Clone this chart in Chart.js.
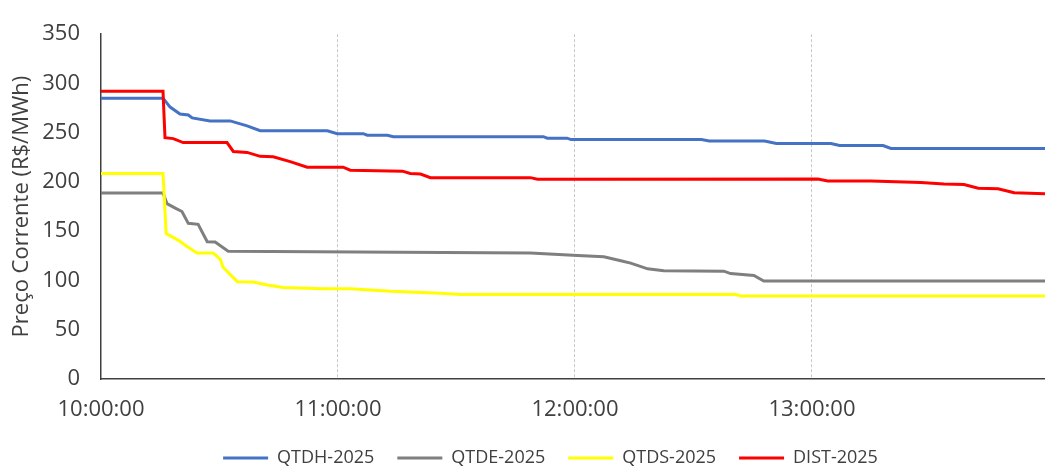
<!DOCTYPE html>
<html>
<head>
<meta charset="utf-8">
<script src="https://cdn.jsdelivr.net/npm/chart.js@4"></script>
<style>
  html, body { margin: 0; padding: 0; background: #fff; }
  #wrap { width: 1045px; height: 468px; }
</style>
</head>
<body>
<div id="wrap"><canvas id="myChart"></canvas></div>
<script>
// minutes after 10:00:00, price values
var qtdhTime = [0, 15.7, 16.5, 17.5, 20.0, 22.1, 23.1, 27.6, 32.7, 37.0, 40.3, 57.3, 59.8, 66.4, 67.4, 72.5, 74, 112, 113, 118, 119, 152, 154, 168, 171, 184.8, 187, 198, 200, 239]
var qtdh     = [285, 285, 281, 276, 269, 268, 265, 262, 262, 257, 252, 252, 249, 249, 247.5, 247.5, 246, 246, 244.5, 244.5, 243, 243, 241.5, 241.5, 239, 239, 237, 237, 234, 234]

var qtdeTime = [0, 15.7, 16.7, 18.8, 20.5, 22.1, 24.6, 26.9, 28.9, 32.2, 108.7, 120.7, 127.3, 131.6, 134.1, 138.4, 142.5, 157.7, 159.4, 165.3, 167.8, 239]
var qtde     = [188.8, 188.8, 178, 173.5, 170, 158, 157, 139.4, 139, 129.7, 128, 125.4, 124, 120, 117.6, 111.8, 110, 109.5, 107, 105, 99.4, 99.4]

var qtdsTime = [0, 15.7, 16.5, 19.5, 21.8, 24.3, 28.4, 30.2, 30.9, 34.5, 38.5, 42.1, 46.1, 56.3, 63.1, 73.3, 85.9, 91, 160.7, 162, 239]
var qtds     = [208.6, 208.6, 147.5, 141, 134.5, 128, 128, 121.5, 113.4, 98.8, 98.5, 95.5, 93, 91.6, 91.6, 89, 87, 85.8, 85.8, 84.2, 84.2]

var distTime = [0, 15.7, 16.2, 18.3, 20.8, 31.9, 33.5, 37.0, 40.3, 43.6, 47.9, 52.2, 61.3, 63.1, 76.3, 78.3, 80.9, 83.4, 108.7, 110.5, 181.5, 184, 194.9, 207.6, 213.4, 218.5, 222.1, 227.1, 231.2, 239]
var dist     = [292, 292, 245, 244, 240, 240, 231, 230, 226, 225.5, 220.6, 215, 215, 212, 211, 208.6, 208, 204.4, 204.4, 202.8, 203, 201, 201, 199.5, 198, 197.5, 193.6, 193, 189, 188]

var seriesNames = ['QTDH-2025', 'QTDE-2025', 'QTDS-2025', 'DIST-2025']
var xTicks = [0, 60, 120, 180]
var xTickLabels = ['10:00:00', '11:00:00', '12:00:00', '13:00:00']
var yTicks = [0, 50, 100, 150, 200, 250, 300, 350]

function pts(t, v){
    return t.map(function(x, i){ return {x: x, y: v[i]} })
}

const txt = '#404040'

const data = {
    datasets: [
        { label: seriesNames[0], data: pts(qtdhTime, qtdh), borderColor: '#4472C4', backgroundColor: '#4472C4', order: 4 },
        { label: seriesNames[1], data: pts(qtdeTime, qtde), borderColor: '#7F7F7F', backgroundColor: '#7F7F7F', order: 3 },
        { label: seriesNames[2], data: pts(qtdsTime, qtds), borderColor: '#FFFF00', backgroundColor: '#FFFF00', order: 2 },
        { label: seriesNames[3], data: pts(distTime, dist), borderColor: '#FF0000', backgroundColor: '#FF0000', order: 1 }
    ]
}
data.datasets.forEach(function(d){
    d.borderWidth = 3
    d.pointRadius = 0
    d.tension = 0
})

// nudge the legend a bit to the right, like the original
const legendShift = {
    id: 'legendShift',
    afterLayout: function(chart){
        if (chart.legend) {
            chart.legend.left += 28
            chart.legend.right += 28
        }
    }
}

const config = {
    type: 'line',
    data: data,
    options: {
        responsive: true,
        maintainAspectRatio: false,
        animation: false,
        layout: { padding: { left: 0, right: 0, top: 6, bottom: -9 } },
        plugins: {
            tooltip: { enabled: false },
            legend: {
                position: 'bottom',
                labels: {
                    color: txt,
                    font: { family: 'Open Sans', size: 18 },
                    usePointStyle: true,
                    pointStyle: 'line',
                    pointStyleWidth: 45,
                    boxHeight: 3,
                    padding: 23,
                    sort: function(a, b){ return a.datasetIndex - b.datasetIndex }
                }
            }
        },
        scales: {
            x: {
                type: 'linear',
                min: 0,
                max: 239,
                afterBuildTicks: function(scale){
                    scale.ticks = xTicks.map(function(v){ return {value: v} })
                },
                afterFit: function(scale){ scale.height = 47 },
                ticks: {
                    maxRotation: 0,
                    autoSkip: false,
                    padding: 18,
                    color: txt,
                    font: { family: 'Open Sans', size: 22 },
                    callback: function(v){ return xTickLabels[xTicks.indexOf(v)] }
                },
                grid: {
                    drawTicks: false,
                    color: function(ctx){
                        return (ctx.tick && ctx.tick.value === 0) ? 'rgba(0,0,0,0)' : '#c8c8c8'
                    },
                    lineWidth: 1
                },
                border: { display: true, color: '#404040', width: 1.5, dash: [3, 2] }
            },
            y: {
                min: 0,
                max: 350,
                afterBuildTicks: function(scale){
                    scale.ticks = yTicks.map(function(v){ return {value: v} })
                },
                afterFit: function(scale){ scale.width = 101 },
                ticks: {
                    padding: 21,
                    color: txt,
                    font: { family: 'Open Sans', size: 22 }
                },
                grid: { display: false, drawTicks: false },
                border: { display: true, color: '#404040', width: 1.5 },
                title: {
                    display: true,
                    text: 'Preço Corrente (R$/MWh)',
                    color: txt,
                    font: { family: 'Open Sans', size: 22 },
                    padding: { top: 9, bottom: 0 }
                }
            }
        }
    },
    plugins: [legendShift]
}

const myChart = new Chart(document.getElementById('myChart'), config)
</script>
</body>
</html>
